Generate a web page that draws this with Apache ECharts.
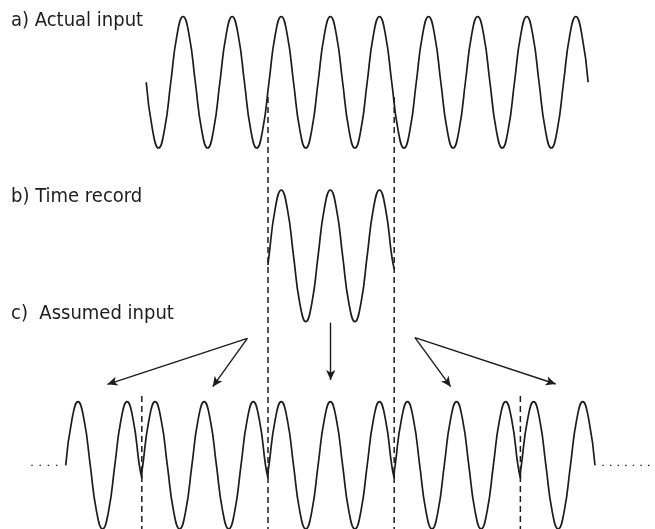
<!DOCTYPE html>
<html><head><meta charset="utf-8">
<script src="https://cdn.jsdelivr.net/npm/echarts@6/dist/echarts.min.js"></script>
<style>html,body{margin:0;padding:0;background:#fff}#c{width:655px;height:529px}</style>
</head><body><div id="c"></div>
<script>
// ---- data (time in periods of the input sine, 0 = start of the time record; amplitude -1..1) ----
const actualT = [-2.48,-2.355,-2.23,-2.105,-1.98,-1.855,-1.73,-1.605,-1.48,-1.355,-1.23,-1.105,-0.98,-0.855,-0.73,-0.605,
  -0.48,-0.355,-0.23,-0.105,0.02,0.145,0.27,0.395,0.52,0.645,0.77,0.895,1.02,1.145,1.27,1.395,
  1.52,1.645,1.77,1.895,2.02,2.145,2.27,2.395,2.52,2.645,2.77,2.895,3.02,3.145,3.27,3.395,
  3.52,3.645,3.77,3.895,4.02,4.145,4.27,4.395,4.52,4.645,4.77,4.895,5.02,5.145,5.27,5.395,
  5.52,5.645,5.77,5.895,6.02,6.145,6.27,6.395,6.52];
const actualV = [0,-0.71,-1,-0.71,0,0.71,1,0.71, 0,-0.71,-1,-0.71,0,0.71,1,0.71,
  0,-0.71,-1,-0.71,0,0.71,1,0.71, 0,-0.71,-1,-0.71,0,0.71,1,0.71,
  0,-0.71,-1,-0.71,0,0.71,1,0.71, 0,-0.71,-1,-0.71,0,0.71,1,0.71,
  0,-0.71,-1,-0.71,0,0.71,1,0.71, 0,-0.71,-1,-0.71,0,0.71,1,0.71,
  0,-0.71,-1,-0.71,0,0.71,1,0.71, 0];
const recordT = [0,0.02,0.145,0.27,0.395,0.52,0.645,0.77,0.895,1.02,1.145,1.27,1.395,1.52,1.645,1.77,1.895,2.02,2.145,2.27,2.395,2.52,2.57];
const recordV = [-0.14,0,0.71,1,0.71,0,-0.71,-1,-0.71,0,0.71,1,0.71,0,-0.71,-1,-0.71,0,0.71,1,0.71,0,-0.2];
const copyIndex = [-2,-1,0,1,2];
const assumedRange = [-4.14, 6.66];
const leaderLeftT = [-4.82, -4.28];
const leaderRightT = [6.81, 7.84];
const dashedLongT = [0, 2.57];
const dashedShortT = [-2.57, 5.14];
const labels = ['a) Actual input', 'b) Time record', 'c)  Assumed input'];
// arrows: [fromT, fromRow, toT, toRow] on the overlay
const arrows = [
  [1.277, 322.7, 1.277, 380],
  [-0.42, 338.3, -3.27, 384.3],
  [-0.42, 338.3, -1.126, 386.7],
  [2.994, 337.7, 3.72, 386.7],
  [2.994, 337.7, 5.86, 384]
];

// ---- layout ----
const PX = 49.1, ORIGIN = 268, XMIN = -5.4, XMAX = 7.85, W = 655, H = 529;
const gl = ORIGIN + XMIN * PX, gr = W - (ORIGIN + XMAX * PX);
const INK = '#1e1b1c';
const FONT = "'Liberation Sans Narrow','DejaVu Sans Condensed','Roboto Condensed',sans-serif";

const recordLength = recordT[recordT.length - 1];
const assumed = [];
copyIndex.forEach(k => {
  const off = k * recordLength;
  recordT.forEach((t, i) => {
    const tt = +(t + off).toFixed(4);
    if (tt >= assumedRange[0] - 1e-6 && tt <= assumedRange[1] + 1e-6) assumed.push([tt, recordV[i]]);
  });
});

const grids = [
  {left: gl, right: gr, top: 16.5, height: 131.5},
  {left: gl, right: gr, top: 190, height: 131.7},
  {left: gl, right: gr, top: 401.7, height: 144},
  {left: gl, right: gr, top: 0, height: H}
];
const xAxes = grids.map((g, i) => ({type: 'value', gridIndex: i, min: XMIN, max: XMAX, show: false}));
const yAxes = grids.map((g, i) => i < 3
  ? {type: 'value', gridIndex: i, min: -1, max: 1, show: false}
  : {type: 'value', gridIndex: i, min: 0, max: H, inverse: true, show: false});

const waveStyle = {color: INK, width: 1.7};
const waveCommon = {type: 'line', smooth: 0.5, showSymbol: false, clip: false, lineStyle: waveStyle};
const series = [
  Object.assign({xAxisIndex: 0, yAxisIndex: 0, data: actualT.map((t, i) => [t, actualV[i]])}, waveCommon),
  Object.assign({xAxisIndex: 1, yAxisIndex: 1, data: recordT.map((t, i) => [t, recordV[i]])}, waveCommon),
  Object.assign({xAxisIndex: 2, yAxisIndex: 2, data: assumed}, waveCommon),
  {type: 'line', xAxisIndex: 2, yAxisIndex: 2, data: leaderLeftT.map(t => [t, 0]), showSymbol: false, clip: false, lineStyle: {color: INK, width: 1.4, type: [1.4, 6.8]}},
  {type: 'line', xAxisIndex: 2, yAxisIndex: 2, data: leaderRightT.map(t => [t, 0]), showSymbol: false, clip: false, lineStyle: {color: INK, width: 1.4, type: [1.4, 6.2]}}
];
dashedLongT.forEach(t => series.push({type: 'line', xAxisIndex: 3, yAxisIndex: 3, data: [[t, 97], [t, H]], showSymbol: false, clip: false, lineStyle: {color: INK, width: 1.5, type: [6, 4]}}));
dashedShortT.forEach(t => series.push({type: 'line', xAxisIndex: 3, yAxisIndex: 3, data: [[t, 396], [t, H]], showSymbol: false, clip: false, lineStyle: {color: INK, width: 1.5, type: [6, 4]}}));
series.push({
  type: 'line', xAxisIndex: 3, yAxisIndex: 3, data: [], silent: true,
  markLine: {
    silent: true, symbol: ['none', 'arrow'], symbolSize: [7, 10],
    label: {show: false}, emphasis: {disabled: true},
    lineStyle: {color: INK, width: 1.4, type: 'solid'},
    data: arrows.map(a => [{coord: [a[0], a[1]]}, {coord: [a[2], a[3]]}])
  }
});

const chart = echarts.init(document.getElementById('c'), null, {renderer: 'canvas'});
chart.setOption({
  animation: false,
  backgroundColor: '#fff',
  title: labels.map((txt, i) => ({
    text: txt, left: 11, top: [11, 187, 304][i], padding: 0,
    textStyle: {fontFamily: FONT, fontSize: 20, fontWeight: 'normal', color: INK}
  })),
  grid: grids,
  xAxis: xAxes,
  yAxis: yAxes,
  series: series
});
</script></body></html>
